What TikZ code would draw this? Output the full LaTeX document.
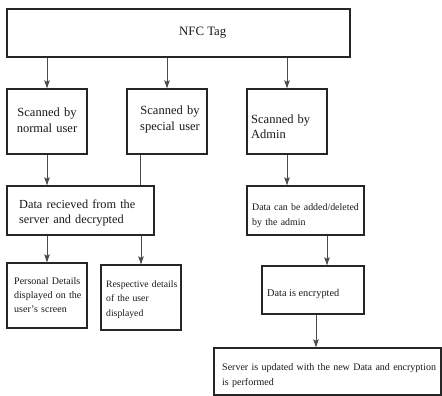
\documentclass[tikz,border=0pt]{standalone}
\usepackage{fontspec}
\setmainfont{Liberation Serif}
\usetikzlibrary{arrows.meta}
\begin{document}
\begin{tikzpicture}[x=1pt,y=-1pt,
  box/.style={draw=black!85, line width=1.4pt, rectangle, inner sep=0pt},
  lbl/.style={inner sep=0pt, text=black!90},
  bigtxt/.style={font=\fontsize{12.5}{16}\selectfont},
  conn/.style={draw=black!70, line width=0.8pt},
  arr/.style={conn, -{Stealth[length=8pt,width=5.5pt,inset=1.5pt]}}]
\useasboundingbox (0,0) rectangle (442,396);
\fill[white] (0,0) rectangle (442,396);

% boxes
\node[box, minimum width=343pt, minimum height=48pt] (nfc) at (178.5,33) {};
\node[box, minimum width=80pt, minimum height=65pt] (s1) at (47,121.5) {};
\node[box, minimum width=80pt, minimum height=65pt] (s2) at (167,121.5) {};
\node[box, minimum width=80pt, minimum height=65pt] (s3) at (287,121.5) {};
\node[box, minimum width=147pt, minimum height=49pt] (dr) at (80.5,210.5) {};
\node[box, minimum width=117pt, minimum height=49pt] (da) at (305.5,210.5) {};
\node[box, minimum width=80pt, minimum height=65pt] (pd) at (47,295.5) {};
\node[box, minimum width=80pt, minimum height=65pt] (rd) at (141,297.5) {};
\node[box, minimum width=102pt, minimum height=48pt] (de) at (313,290) {};
\node[box, minimum width=227pt, minimum height=47pt] (sv) at (327.5,371.5) {};

% texts
\node[lbl, anchor=base west, font=\fontsize{12.8}{16}\selectfont] (nfct) at (179,36) {NFC Tag};
\node[lbl, bigtxt, anchor=base, text width=76pt, align=center] (s1t) at (47,117) {Scanned by\\normal user};
\node[lbl, bigtxt, anchor=base, text width=76pt, align=center] (s2t) at (170,114) {Scanned by\\special user};
\node[lbl, bigtxt, anchor=base west, text width=90pt, align=left] (s3t) at (251,123) {Scanned by\\Admin};
\node[lbl, font=\fontsize{12.3}{15.5}\selectfont, anchor=base west, text width=160pt, align=left] (drt) at (19,208) {Data recieved from the\\server and decrypted};
\node[lbl, font=\fontsize{9.9}{15}\selectfont, anchor=base west, text width=150pt, align=left] (dat) at (252,210) {Data can be added/deleted\\by the admin};
\node[lbl, font=\fontsize{10}{14.2}\selectfont, anchor=base west, text width=100pt, align=left] (pdt) at (14,284) {Personal Details\\displayed on the\\user's screen};
\node[lbl, font=\fontsize{9.7}{14.7}\selectfont, anchor=base west, text width=100pt, align=left] (rdt) at (106,287) {Respective details\\of the user\\displayed};
\node[lbl, font=\fontsize{10.3}{14}\selectfont, anchor=base west] (det) at (267,296) {Data is encrypted};
\node[lbl, font=\fontsize{10}{15}\selectfont, anchor=base west, text width=240pt, align=left] (svt) at (222,370) {Server is updated with the new Data and encryption\\is performed};

% connectors
\draw[arr] (nfc.south -| s1.north) -- (s1.north);
\draw[arr] (nfc.south -| s2.north) -- (s2.north);
\draw[arr] (nfc.south -| s3.north) -- (s3.north);
\draw[arr] (s1.south) -- (s1.south |- dr.north);
\draw[conn] ([xshift=-27pt]s2.south) -- ([xshift=-27pt]s2.south |- dr.north);
\draw[arr] (s3.south) -- (s3.south |- da.north);
\draw[arr] (dr.south -| pd.north) -- (pd.north);
\draw[arr] (dr.south -| rd.north) -- (rd.north);
\draw[arr] ([xshift=21.5pt]da.south) -- ([xshift=21.5pt]da.south |- de.north);
\draw[arr] ([xshift=3pt]de.south) -- ([xshift=3pt]de.south |- sv.north);
\end{tikzpicture}
\end{document}
